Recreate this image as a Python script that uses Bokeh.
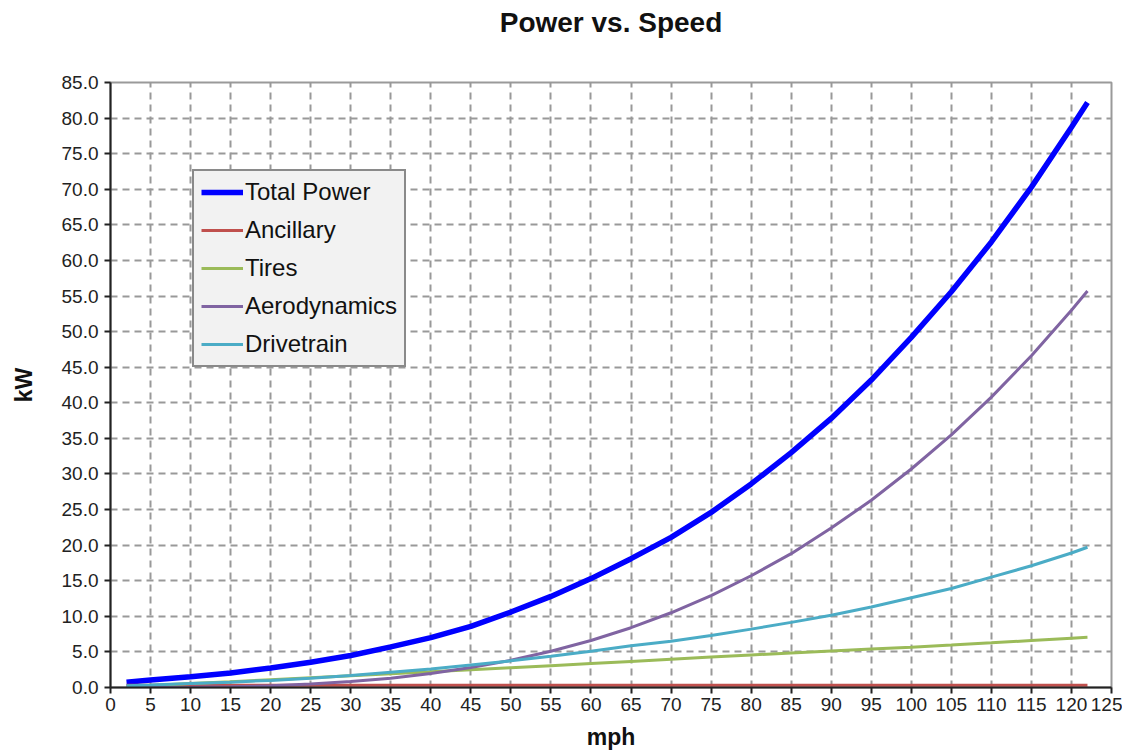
from bokeh.plotting import figure
from bokeh.models import Range1d, FixedTicker, PrintfTickFormatter, Legend, LegendItem, Title
from bokeh.embed import file_html
from bokeh.resources import INLINE

mph = [2, 5, 10, 15, 20, 25, 30, 35, 40, 45, 50, 55, 60, 65, 70, 75, 80, 85,
       90, 95, 100, 105, 110, 115, 120, 122]
total_power = [0.75, 1.05, 1.5, 2.05, 2.75, 3.55, 4.5, 5.7, 7.0, 8.6, 10.6, 12.8,
               15.3, 18.1, 21.1, 24.6, 28.6, 33.0, 37.8, 43.2, 49.2, 55.6, 62.6,
               70.3, 78.7, 82.2]
ancillary = [0.3] * 26
tires = [0.1, 0.28, 0.55, 0.82, 1.1, 1.37, 1.65, 1.93, 2.2, 2.5, 2.78, 3.07, 3.37,
         3.67, 3.97, 4.27, 4.57, 4.85, 5.12, 5.4, 5.67, 5.97, 6.28, 6.6, 6.93, 7.05]
aerodynamics = [0.0, 0.004, 0.03, 0.1, 0.245, 0.48, 0.83, 1.31, 1.96, 2.8, 3.83,
                5.1, 6.6, 8.4, 10.5, 12.9, 15.7, 18.8, 22.4, 26.3, 30.7, 35.5,
                40.8, 46.6, 53.0, 55.7]
drivetrain = [0.25, 0.35, 0.55, 0.75, 1.0, 1.3, 1.7, 2.15, 2.6, 3.15, 3.75, 4.4,
              5.1, 5.85, 6.5, 7.3, 8.2, 9.15, 10.15, 11.3, 12.6, 13.9, 15.5, 17.1,
              18.9, 19.7]

x_ticks = list(range(0, 126, 5))
y_ticks = list(range(0, 86, 5))
title_text = "Power vs. Speed"

FONT = "Liberation Sans"

p = figure(width=1122, height=752, output_backend="svg", toolbar_location=None,
           x_range=Range1d(0, 125), y_range=Range1d(0, 85),
           min_border_left=110, min_border_right=11, min_border_top=82,
           min_border_bottom=65)

# real title (outermost) and an empty spacer title between it and the frame
p.title.text = title_text
p.title.align = "center"
p.title.text_font = FONT
p.title.text_font_size = "28px"
p.title.text_font_style = "bold"
p.title.text_color = "#111111"
p.title.standoff = 0
p.add_layout(Title(text=" ", text_font_size="30px", standoff=10), "above")

p.outline_line_color = "#9a9a9a"
p.outline_line_width = 2

for ax, ticks in ((p.xaxis[0], x_ticks), (p.yaxis[0], y_ticks)):
    ax.ticker = FixedTicker(ticks=ticks)
    ax.axis_line_color = "#222222"
    ax.axis_line_width = 2
    ax.major_tick_line_color = "#222222"
    ax.major_tick_line_width = 2
    ax.major_tick_out = 6
    ax.major_tick_in = 0
    ax.minor_tick_line_color = None
    ax.major_label_text_font = FONT
    ax.major_label_text_font_size = "19px"
    ax.major_label_text_color = "#222222"
    ax.axis_label_text_font = FONT
    ax.axis_label_text_font_size = "23px"
    ax.axis_label_text_font_style = "bold"
    ax.axis_label_text_color = "#111111"

p.xaxis.axis_label = "mph"
p.yaxis.axis_label = "kW"
p.yaxis.formatter = PrintfTickFormatter(format="%.1f")
p.xaxis.major_label_standoff = 4
p.yaxis.major_label_standoff = 6
p.xaxis.axis_label_standoff = 10
p.yaxis.axis_label_standoff = 22

for g, ticks in ((p.xgrid[0], x_ticks), (p.ygrid[0], y_ticks)):
    g.ticker = FixedTicker(ticks=ticks)
    g.grid_line_color = "#999999"
    g.grid_line_width = 2
    g.grid_line_dash = "7 5"

r_total = p.line(mph, total_power, line_color="#0000ff", line_width=5.5)
r_anc = p.line(mph, ancillary, line_color="#c0504d", line_width=3)
r_tires = p.line(mph, tires, line_color="#9bbb59", line_width=3)
r_aero = p.line(mph, aerodynamics, line_color="#8064a2", line_width=3)
r_drive = p.line(mph, drivetrain, line_color="#4bacc6", line_width=3)

legend = Legend(items=[
    LegendItem(label="Total Power", renderers=[r_total]),
    LegendItem(label="Ancillary", renderers=[r_anc]),
    LegendItem(label="Tires", renderers=[r_tires]),
    LegendItem(label="Aerodynamics", renderers=[r_aero]),
    LegendItem(label="Drivetrain", renderers=[r_drive]),
], location=(82, 320))
legend.background_fill_color = "#f2f2f2"
legend.background_fill_alpha = 1
legend.border_line_color = "#222222"
legend.border_line_width = 2
legend.label_text_font = FONT
legend.label_text_font_size = "24px"
legend.label_text_color = "#111111"
legend.glyph_width = 42
legend.glyph_height = 28
legend.label_height = 28
legend.label_standoff = 2
legend.spacing = 10
legend.padding = 7
legend.margin = 0
p.add_layout(legend, "center")

open("out.html", "w").write(file_html(p, INLINE))
